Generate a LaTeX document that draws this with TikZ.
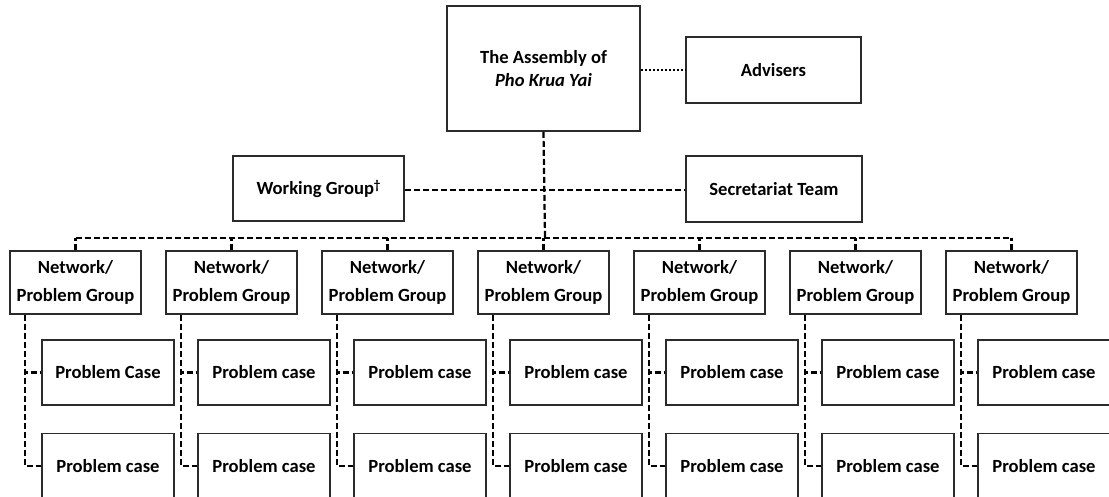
\documentclass[tikz,border=0pt]{standalone}
\usepackage{fontspec}
\setmainfont{Carlito}
\usetikzlibrary{calc}
\definecolor{edge}{HTML}{2B2B2B}
\tikzset{
  box/.style={draw=edge, line width=1.8pt, fill=white, inner sep=0pt, align=center,
    font={\fontsize{18.6}{28}\selectfont\bfseries}},
  grp/.style={box, minimum width=131pt, minimum height=63pt},
  case/.style={box, minimum width=132pt, minimum height=65pt},
  dashline/.style={draw=black, line width=2.2pt, dash pattern=on 6pt off 3pt},
  dotline/.style={draw=black, line width=2pt, dash pattern=on 2pt off 2pt},
}
\begin{document}
\begin{tikzpicture}[x=1pt, y=-1pt]
\clip (0,0) rectangle (1109,497);
\useasboundingbox (0,0) rectangle (1109,497);
\fill[white] (0,0) rectangle (1109,497);

\coordinate (bus) at (545,238);
\coordinate (wgy) at (545,190);

\node[box, minimum width=193pt, minimum height=125pt, font={\fontsize{18.6}{23}\selectfont\bfseries}] (top) at (543.5,68.5) {The Assembly of\\\itshape Pho Krua Yai};
\node[box, minimum width=175pt, minimum height=66pt] (adv) at (773.5,70) {Advisers};
\node[box, minimum width=171pt, minimum height=65pt] (wg) at (318.5,188.5) {Working Group\raisebox{0.55ex}{\fontsize{13}{13}\selectfont\dag}};
\node[box, minimum width=176pt, minimum height=66pt] (sec) at (774,189) {Secretariat Team};

\foreach \k in {1,...,7}{
  \pgfmathsetmacro{\cx}{75.5+156*(\k-1)}
  \node[grp] (g\k) at (\cx,282.5) {Network/\\Problem Group};
  \node[case] (c\k a) at ({\cx+32.5},372.5) {\ifnum\k=1 Problem Case\else Problem case\fi};
  \node[case] (c\k b) at ({\cx+32.5},466) {Problem case};
}

\draw[dotline] (top.east |- adv.west) -- (adv.west);
\draw[dashline] (top.south) -- (bus);
\draw[dashline] (wg.east |- wgy) -- (sec.west |- wgy);
\draw[dashline] (g1.north |- bus) -- (g7.north |- bus);
\foreach \k in {1,...,7}{
  \draw[dashline] (g\k.north) -- (g\k.north |- bus);
  \draw[dashline] ($(g\k.south west)+(16,0)$) |- (c\k a.west);
  \draw[dashline] ($(g\k.south west)+(16,0)$) |- (c\k b.west);
}
\end{tikzpicture}
\end{document}
